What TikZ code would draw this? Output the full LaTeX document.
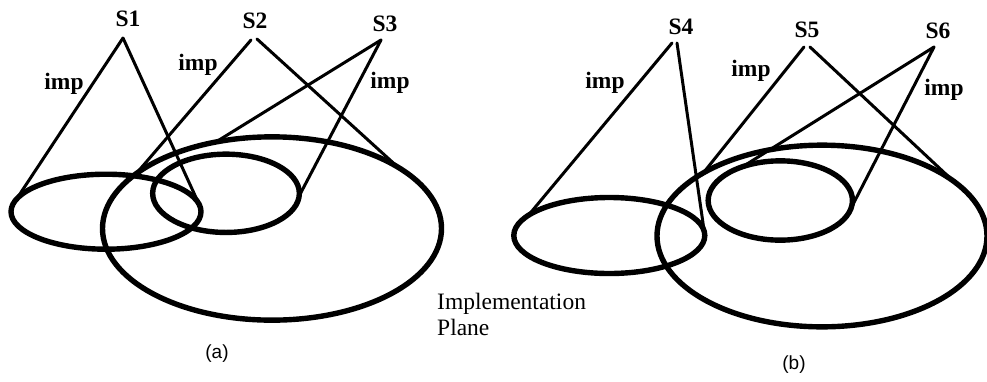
\documentclass[tikz,border=0pt]{standalone}
\usepackage{fontspec}
\setmainfont{Liberation Serif}
\newfontfamily\capfont{Liberation Sans}
\usetikzlibrary{shapes.geometric}
\begin{document}
\begin{tikzpicture}[x=1pt,y=-1pt,
  slbl/.style={font=\fontsize{23.5}{27}\selectfont\bfseries, anchor=base, inner sep=0},
  implbl/.style={font=\fontsize{23.5}{27}\selectfont\bfseries, anchor=base, inner sep=0},
  caplbl/.style={font=\capfont\fontsize{19}{22}\selectfont, anchor=base, inner sep=0},
  planelbl/.style={font=\fontsize{23.5}{26}\selectfont, anchor=base west, inner sep=0, align=left},
  plane/.style={ellipse, draw, line width=5.4pt, inner sep=0, outer sep=0},
  cone/.style={draw, line width=3pt, line cap=round}]
\useasboundingbox (0,0) rectangle (987,381);
% ---------- (a) ----------
\node[plane, minimum width=190pt, minimum height=75pt] (e1) at (106,211.7) {};
\node[plane, minimum width=146.7pt, minimum height=78.3pt] (e2) at (226,193.3) {};
\node[plane, minimum width=339pt, minimum height=183.3pt] (e3) at (272,228.5) {};
\node[slbl] (S1) at (128,26) {S1};
\node[slbl] (S2) at (255,28) {S2};
\node[slbl] (S3) at (385,31) {S3};
\coordinate (a1) at (123,38);
\coordinate (a2l) at (251,40);
\coordinate (a2r) at (257,39);
\coordinate (a3) at (381,40);
\draw[cone] (a1) -- (e1.172.9);
\draw[cone] (a1) -- (e1.5.3);
\draw[cone] (a2l) -- (e3.158.2);
\draw[cone] (a2r) -- (e3.26.4);
\draw[cone] (a3) -- (e3.123.2);
\draw[cone] (a3) -- (e2.-2.8);
\node[implbl] (i1) at (64,89) {imp};
\node[implbl] (i2) at (198,70) {imp};
\node[implbl] (i3) at (390,88) {imp};
\node[caplbl] (ca) at (217,358) {(a)};
\node[planelbl] (ip) at (437,335) {Implementation\\Plane};
% ---------- (b) ----------
\node[plane, minimum width=191pt, minimum height=76pt] (e4) at (609.3,235.5) {};
\node[plane, minimum width=144.3pt, minimum height=79.3pt] (e5) at (780.3,200.5) {};
\node[plane, minimum width=330pt, minimum height=181.7pt] (e6) at (822,236) {};
\node[slbl] (S4) at (681,34) {S4};
\node[slbl] (S5) at (807,37) {S5};
\node[slbl] (S6) at (938,38) {S6};
\coordinate (a4l) at (672,43);
\coordinate (a4r) at (677,43);
\coordinate (a5l) at (804,47);
\coordinate (a5r) at (810,47);
\coordinate (a6) at (934,47);
\draw[cone] (a4l) -- (e4.166.8);
\draw[cone] (a4r) -- (e4.0);
\draw[cone] (a5l) -- (e6.152.5);
\draw[cone] (a5r) -- (e6.23.8);
\draw[cone] (a6) -- (e5.138.5);
\draw[cone] (a6) -- (e5.-6);
\node[implbl] (i4) at (605,88) {imp};
\node[implbl] (i5) at (751,76) {imp};
\node[implbl] (i6) at (944,95) {imp};
\node[caplbl] (cb) at (794,369) {(b)};
\end{tikzpicture}
\end{document}
